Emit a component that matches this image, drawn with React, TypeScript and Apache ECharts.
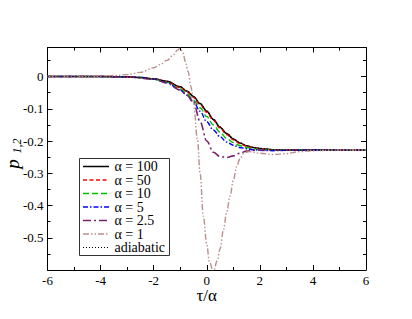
import React, { useEffect, useRef } from 'react';
import * as echarts from 'echarts';

const X_MAIN = [-6, -5, -4, -3, -2.5, -2, -1.5, -1, -0.75, -0.5, -0.25, 0, 0.25, 0.5, 0.75, 1, 1.25, 1.5, 1.75, 2, 2.5, 3, 4, 5, 6];
const P_100 = [0, 0, 0, -0.001, -0.003, -0.007, -0.015, -0.032, -0.045, -0.062, -0.084, -0.108, -0.133, -0.157, -0.177, -0.194, -0.206, -0.215, -0.22, -0.223, -0.227, -0.228, -0.228, -0.228, -0.228];
const P_50 = [0, 0, 0, -0.001, -0.003, -0.007, -0.016, -0.034, -0.047, -0.065, -0.087, -0.111, -0.136, -0.16, -0.18, -0.196, -0.208, -0.216, -0.221, -0.224, -0.227, -0.228, -0.228, -0.228, -0.228];
const P_10 = [0, 0, 0, -0.001, -0.003, -0.008, -0.018, -0.038, -0.053, -0.073, -0.097, -0.124, -0.15, -0.173, -0.192, -0.205, -0.214, -0.22, -0.224, -0.226, -0.228, -0.228, -0.228, -0.228, -0.228];
const P_5 = [0, 0, 0, -0.001, -0.003, -0.008, -0.019, -0.042, -0.058, -0.078, -0.108, -0.14, -0.166, -0.187, -0.203, -0.213, -0.22, -0.224, -0.227, -0.229, -0.23, -0.229, -0.228, -0.228, -0.228];
const P_ADIABATIC = [0, 0, 0, -0.001, -0.003, -0.007, -0.015, -0.032, -0.045, -0.062, -0.084, -0.107, -0.132, -0.156, -0.176, -0.193, -0.205, -0.214, -0.22, -0.223, -0.227, -0.228, -0.228, -0.228, -0.228];

const X_25 = [-6, -5, -4, -3, -2, -1.5, -1, -0.75, -0.5, -0.25, 0, 0.25, 0.5, 0.75, 1, 1.25, 1.5, 1.75, 2, 2.5, 3, 4, 5, 6];
const P_25 = [0, 0, 0, -0.001, -0.008, -0.02, -0.042, -0.058, -0.08, -0.14, -0.2, -0.235, -0.248, -0.251, -0.246, -0.238, -0.231, -0.229, -0.228, -0.228, -0.228, -0.228, -0.228, -0.228];

const X_1 = [-6, -5, -4, -3.5, -3, -2.5, -2, -1.75, -1.5, -1.25, -1.1, -1, -0.9, -0.8, -0.7, -0.6, -0.5, -0.35, -0.25, -0.13, 0, 0.1, 0.25, 0.4, 0.5, 0.63, 0.75, 0.88, 1, 1.13, 1.25, 1.4, 1.6, 2, 2.5, 3, 3.5, 4, 5, 6];
const P_1 = [0, 0, 0.001, 0.003, 0.006, 0.013, 0.027, 0.037, 0.05, 0.068, 0.082, 0.088, 0.075, 0.045, 0.015, -0.03, -0.08, -0.196, -0.3, -0.433, -0.52, -0.575, -0.605, -0.57, -0.535, -0.475, -0.42, -0.37, -0.322, -0.279, -0.255, -0.238, -0.233, -0.238, -0.242, -0.239, -0.233, -0.23, -0.228, -0.228];

const LABELS = ['α = 100', 'α = 50', 'α = 10', 'α = 5', 'α = 2.5', 'α = 1', 'adiabatic'];
const X_TICK_MIN = -6;
const X_TICK_MAX = 6;
const Y_MIN = -0.6;
const Y_MAX = 0.09;
const X_TITLE = 'τ/α';
const Y_TITLE_MAIN = 'p';
const Y_TITLE_SUB = '1,2';

const COLORS = ['#000000', '#ff0000', '#00c000', '#0000ff', '#7a2468', '#bc8f8f', '#000000'];
const DASHES: any[] = [null, [4, 2.5], [6, 3], [5, 2, 1.5, 2], [8, 3, 2, 3], [6, 2, 1.5, 2, 1.5, 2], [1, 2]];
const WIDTHS = [1.5, 1.4, 1.4, 1.4, 1.6, 1.4, 1.2];

const FONT = 'Liberation Serif';

function pairs(xs: number[], ys: number[]) {
  return xs.map((x, i) => [x, ys[i]]);
}

export default function App() {
  const ref = useRef<HTMLDivElement>(null);
  useEffect(() => {
    if (!ref.current) return;
    const chart = echarts.init(ref.current, undefined, { renderer: 'svg' });
    const axisCommon = {
      axisLine: { show: true, onZero: false, lineStyle: { color: '#000', width: 1 } },
      axisTick: { show: true, inside: true, length: 5, lineStyle: { color: '#000', width: 1 } },
      minorTick: { show: true, splitNumber: 2, length: 3, lineStyle: { color: '#000', width: 1 } },
      splitLine: { show: false },
    };
    const DATA = [
      pairs(X_MAIN, P_100),
      pairs(X_MAIN, P_50),
      pairs(X_MAIN, P_10),
      pairs(X_MAIN, P_5),
      pairs(X_25, P_25),
      pairs(X_1, P_1),
      pairs(X_MAIN, P_ADIABATIC),
    ];
    const series = LABELS.map((name, i) => ({
      name,
      type: 'line',
      data: DATA[i],
      xAxisIndex: 0,
      yAxisIndex: 0,
      symbol: 'none',
      showSymbol: false,
      smooth: 0.35,
      smoothMonotone: 'x',
      lineStyle: { color: COLORS[i], width: WIDTHS[i], type: DASHES[i] || 'solid' },
      itemStyle: { color: COLORS[i] },
    }));

    const legendX = 79.5;
    const legendY = 158.5;
    const rowH = 13.5;
    const legendEls: any[] = [
      {
        type: 'rect',
        z: 100,
        shape: { x: legendX, y: legendY, width: 90, height: 97 },
        style: { fill: '#fff', stroke: '#333', lineWidth: 1 },
      },
    ];
    LABELS.forEach((label, i) => {
      const cy = legendY + 8 + rowH * i;
      const lineStyle: any = { stroke: COLORS[i], lineWidth: WIDTHS[i] };
      if (DASHES[i]) lineStyle.lineDash = DASHES[i];
      legendEls.push({
        type: 'line',
        z: 101,
        shape: { x1: legendX + 3.5, y1: cy, x2: legendX + 29.5, y2: cy },
        style: lineStyle,
      });
      legendEls.push({
        type: 'text',
        z: 101,
        x: legendX + 35,
        y: cy,
        style: {
          text: label,
          fontFamily: FONT,
          fontSize: 14,
          fill: '#000',
          align: 'left',
          textAlign: 'left',
          verticalAlign: 'middle',
          textVerticalAlign: 'middle',
        },
      });
    });
    const titleEls: any[] = [
      {
        type: 'text',
        z: 101,
        x: 206.7,
        y: 295,
        style: {
          text: X_TITLE,
          fontFamily: FONT,
          fontSize: 17,
          fill: '#000',
          align: 'center',
          textAlign: 'center',
          verticalAlign: 'middle',
          textVerticalAlign: 'middle',
        },
      },
      {
        type: 'text',
        z: 101,
        x: 12,
        y: 164,
        rotation: Math.PI / 2,
        style: {
          text: Y_TITLE_MAIN,
          fontFamily: FONT,
          fontStyle: 'italic',
          fontSize: 19,
          fill: '#000',
          align: 'center',
          textAlign: 'center',
          verticalAlign: 'middle',
          textVerticalAlign: 'middle',
        },
      },
      {
        type: 'text',
        z: 101,
        x: 16.5,
        y: 146,
        rotation: Math.PI / 2,
        style: {
          text: Y_TITLE_SUB,
          fontFamily: FONT,
          fontStyle: 'italic',
          fontSize: 12,
          fill: '#000',
          align: 'center',
          textAlign: 'center',
          verticalAlign: 'middle',
          textVerticalAlign: 'middle',
        },
      },
    ];

    chart.setOption({
      animation: false,
      backgroundColor: '#fff',
      textStyle: { fontFamily: FONT, color: '#000' },
      grid: { left: 47.5, right: 46, top: 47.5, bottom: 49, containLabel: false, outerBoundsMode: 'none' },
      graphic: [...legendEls, ...titleEls],
      xAxis: [
        {
          type: 'value',
          min: X_TICK_MIN,
          max: X_TICK_MAX,
          interval: 2,
          position: 'bottom',
          axisLabel: { fontFamily: FONT, fontSize: 13, color: '#000', margin: 4 },
          ...axisCommon,
        },
        {
          type: 'value',
          min: X_TICK_MIN,
          max: X_TICK_MAX,
          interval: 2,
          position: 'top',
          axisLabel: { show: false },
          ...axisCommon,
        },
      ],
      yAxis: [
        {
          type: 'value',
          min: Y_MIN,
          max: Y_MAX,
          interval: 0.1,
          position: 'left',
          axisLabel: {
            fontFamily: FONT,
            fontSize: 13,
            color: '#000',
            margin: 4,
            formatter: (v: number) => (v < -0.55 || v > 0.001 ? '' : String(Math.round(v * 10) / 10)),
          },
          ...axisCommon,
        },
        {
          type: 'value',
          min: Y_MIN,
          max: Y_MAX,
          interval: 0.1,
          position: 'right',
          axisLabel: { show: false },
          ...axisCommon,
        },
      ],
      series,
    });
    return () => chart.dispose();
  }, []);
  return <div ref={ref} style={{ width: 412, height: 319, margin: -8 }} />;
}
